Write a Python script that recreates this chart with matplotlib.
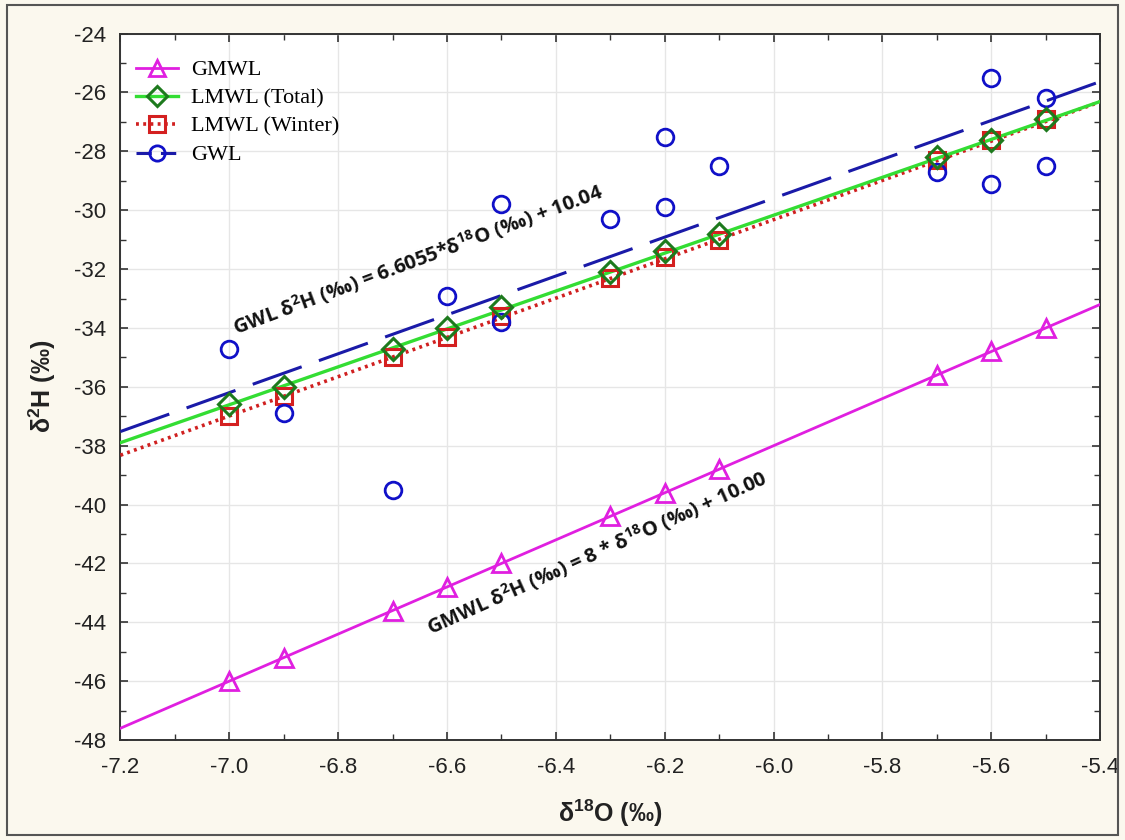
import numpy as np
import matplotlib
matplotlib.use("Agg")
import matplotlib.pyplot as plt
from matplotlib.patches import Rectangle
from matplotlib.ticker import MultipleLocator, FormatStrFormatter

plt.rcParams["axes.unicode_minus"] = False

# d18O values shared by all series
d18o = [-7.0, -6.9, -6.7, -6.6, -6.5, -6.3, -6.2, -6.1, -5.7, -5.6, -5.5]
gmwl_d2h = [-46.0, -45.2, -43.6, -42.8, -42.0, -40.4, -39.6, -38.8, -35.6, -34.8, -34.0]
total_d2h = [-36.6, -36.0, -34.7, -34.0, -33.3, -32.1, -31.4, -30.8, -28.2, -27.6, -26.9]
winter_d2h = [-37.0, -36.3, -35.0, -34.3, -33.6, -32.3, -31.6, -31.0, -28.3, -27.6, -26.9]

gwl_d18o = [-7.0, -6.9, -6.7, -6.6, -6.5, -6.5, -6.3, -6.2, -6.2, -6.1, -5.7, -5.6, -5.6, -5.5, -5.5]
gwl_d2h = [-34.7, -36.9, -39.5, -32.9, -29.8, -33.8, -30.3, -27.5, -29.9, -28.5, -28.7, -25.5, -29.1, -26.2, -28.5]

# regression lines (slope, intercept)
gmwl_fit = (8.0, 10.0)
total_fit = (6.44, 8.47)
winter_fit = (6.67, 9.70)
gwl_fit = (6.6055, 10.04)

xlim = (-7.2, -5.4)
ylim = (-48, -24)

BG = "#fbf8ee"
fig = plt.figure(figsize=(11.25, 8.4), dpi=100, facecolor=BG)
ax = fig.add_axes([0.107, 0.119, 0.871, 0.841])
ax.set_facecolor("white")

xs = np.array(xlim)

def fit_line(coef):
    return coef[0] * xs + coef[1]

# GMWL
ax.plot(xs, fit_line(gmwl_fit), color="#e01fe0", lw=2.0, zorder=3)
ax.plot(d18o, gmwl_d2h, ls="none", marker="^", ms=13, mfc="none", mec="#e01fe0", mew=2.0, zorder=4)
# LMWL Winter
ax.plot(xs, fit_line(winter_fit), color="#d02020", lw=2.6, ls=(0, (0.8, 1.2)), zorder=3)
ax.plot(d18o, winter_d2h, ls="none", marker="s", ms=12, mfc="none", mec="#d42020", mew=2.2, zorder=4)
# LMWL Total
ax.plot(xs, fit_line(total_fit), color="#33dd33", lw=2.4, zorder=3)
ax.plot(d18o, total_d2h, ls="none", marker="D", ms=11, mfc="none", mec="#1d7a1d", mew=2.2, zorder=5)
# GWL
ax.plot(xs, fit_line(gwl_fit), color="#1a1aa8", lw=2.2, ls=(0, (17, 6)), zorder=3)
ax.plot(gwl_d18o, gwl_d2h, ls="none", marker="o", ms=12, mfc="none", mec="#1010c8", mew=2.0, zorder=4)

ax.set_xlim(*xlim)
ax.set_ylim(*ylim)
ax.xaxis.set_major_locator(MultipleLocator(0.2))
ax.xaxis.set_minor_locator(MultipleLocator(0.1))
ax.yaxis.set_major_locator(MultipleLocator(2))
ax.yaxis.set_minor_locator(MultipleLocator(1))
ax.xaxis.set_major_formatter(FormatStrFormatter("%.1f"))
ax.grid(True, which="major", color="#e6e6e6", lw=1.0, zorder=0)
ax.tick_params(which="both", direction="in", top=True, right=True, color="#333333")
ax.tick_params(which="major", length=6, width=1.2, labelsize=16)
ax.tick_params(axis="x", which="major", pad=12)
ax.tick_params(axis="y", which="major", pad=10)
ax.tick_params(which="minor", length=4, width=1.0)
for lab in ax.get_xticklabels() + ax.get_yticklabels():
    lab.set_family("Liberation Sans")
    lab.set_color("#222222")
for sp in ax.spines.values():
    sp.set_color("#333333")
    sp.set_linewidth(1.4)

ax.set_xlabel(r"$\mathregular{δ^{18}}$O (‰)", family="Liberation Sans", fontweight="bold",
              fontsize=18, labelpad=14, color="#222222")
ax.set_ylabel(r"$\mathregular{δ^{2}}$H (‰)", family="Liberation Sans", fontweight="bold",
              fontsize=18, labelpad=12, color="#222222")

# equations
ax.text(-6.653, -31.68, r"GWL $\mathregular{δ^{2}}$H (‰) = 6.6055*$\mathregular{δ^{18}}$O (‰) + 10.04",
        family="Open Sans", fontweight="bold", fontsize=14.5, color="#111111",
        rotation=20.5, rotation_mode="anchor", ha="center", va="center", zorder=6)
ax.text(-6.324, -41.64, r"GMWL $\mathregular{δ^{2}}$H (‰) = 8 * $\mathregular{δ^{18}}$O (‰) + 10.00",
        family="Open Sans", fontweight="bold", fontsize=14.5, color="#111111",
        rotation=24.2, rotation_mode="anchor", ha="center", va="center", zorder=6)

# legend
handles = [
    plt.Line2D([], [], color="#e01fe0", lw=2.0, marker="^", ms=12, mfc="none", mec="#e01fe0", mew=2.0),
    plt.Line2D([], [], color="#33dd33", lw=2.4, marker="D", ms=10, mfc="none", mec="#1d7a1d", mew=2.2),
    plt.Line2D([], [], color="#d02020", lw=2.6, ls=(0, (0.8, 1.2)), marker="s", ms=11, mfc="none", mec="#d42020", mew=2.2),
    plt.Line2D([], [], color="#1a1aa8", lw=2.2, ls=(0, (5, 3)), marker="o", ms=11, mfc="none", mec="#1010c8", mew=2.0),
]
labels = ["GMWL", "LMWL (Total)", "LMWL (Winter)", "GWL"]
ax.legend(handles, labels, loc="upper left", bbox_to_anchor=(0.0, 0.985), frameon=False,
          prop={"family": "Liberation Serif", "size": 16}, handlelength=1.9,
          handletextpad=0.6, labelspacing=0.35, borderaxespad=0.3)

fig.patches.append(Rectangle((0.006, 0.006), 0.988, 0.988, transform=fig.transFigure,
                             fill=False, edgecolor="#555555", lw=1.5))

fig.savefig("out.png", dpi=100, facecolor=BG)
